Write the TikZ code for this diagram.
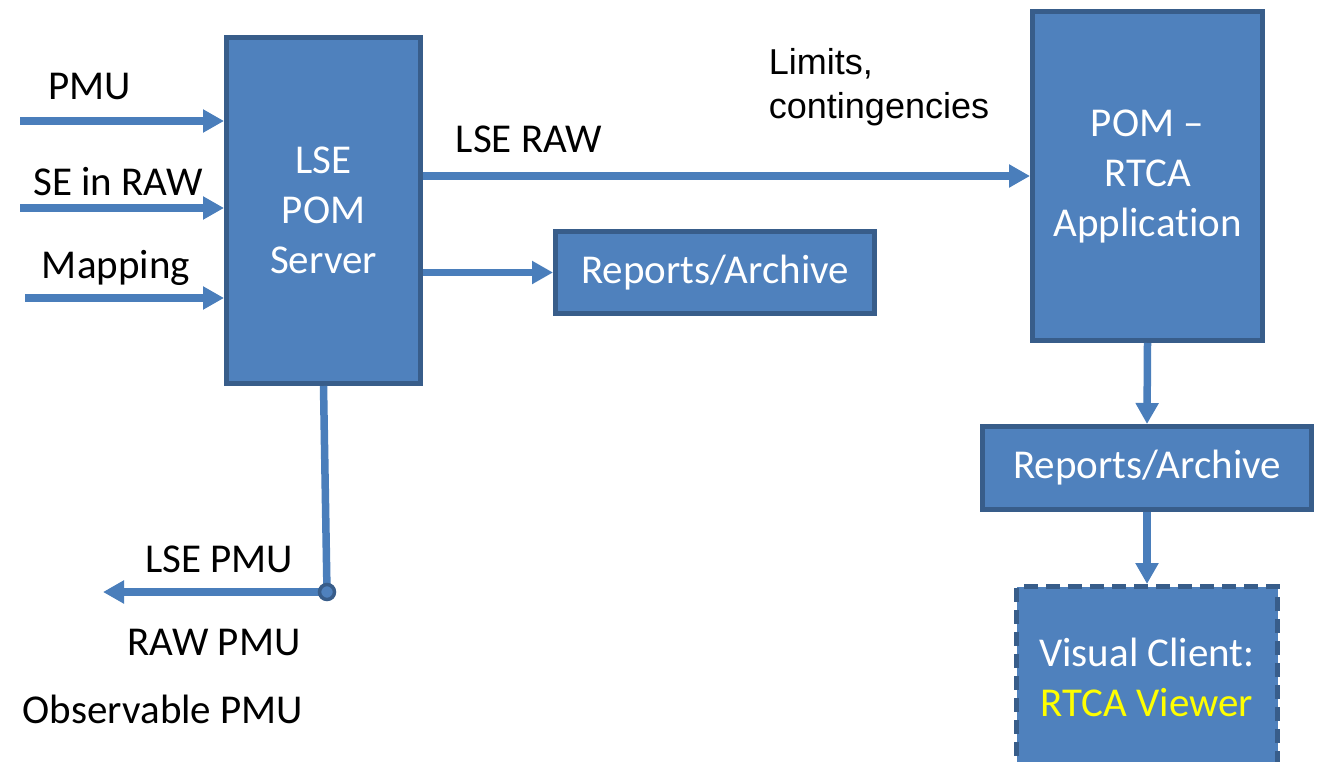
\documentclass[tikz,border=0pt]{standalone}
\usepackage{fontspec}
\setmainfont{Carlito}
\newfontfamily\arialfont{Liberation Sans}
\usetikzlibrary{arrows.meta}
\definecolor{boxfill}{HTML}{4F81BD}
\definecolor{boxline}{HTML}{385D8A}
\definecolor{arrcol}{HTML}{4A7EBB}
\definecolor{vyellow}{HTML}{FFFF00}
\tikzset{
  blk/.style={draw=boxline, fill=boxfill, line width=5pt, text=white, align=center,
    font=\fontsize{41}{50}\selectfont, inner sep=0pt},
  arr/.style={draw=arrcol, line width=7.5pt, -{Triangle[length=21pt,width=22pt]}},
  lnk/.style={draw=arrcol, line width=7.5pt},
  lbl/.style={font=\fontsize{41}{50}\selectfont, inner sep=0pt, anchor=base},
}
\begin{document}
\begin{tikzpicture}[x=1pt,y=-1pt]
\useasboundingbox (0,0) rectangle (1324,762);
% boxes
\node[blk, minimum width=194pt, minimum height=346pt] (srv) at (323.5,210.5) {LSE\\POM\\Server};
\node[blk, minimum width=230pt, minimum height=329pt] (rtca) at (1147.5,176) {POM --\\RTCA\\Applicat\kern0pt ion};
\node[blk, minimum width=319pt, minimum height=82pt] (rep1) at (715,272.5) {Reports/Archive};
\node[blk, minimum width=329pt, minimum height=83pt] (rep2) at (1147,468) {Reports/Archive};
\node[blk, dash pattern=on 14pt off 8pt, minimum width=261pt, minimum height=181pt] (vis) at (1147,677)
  {Visual Client:\\\textcolor{vyellow}{RTCA Viewer}};
% input arrows
\coordinate (pmuin) at (20,121);
\coordinate (sein) at (20,208);
\coordinate (mapin) at (25,298);
\draw[arr] (pmuin) -- (pmuin -| srv.west);
\draw[arr] (sein) -- (sein -| srv.west);
\draw[arr] (mapin) -- (mapin -| srv.west);
\node[lbl] (lpmu) at (90,100) {PMU};
\node[lbl] (lse) at (118,196) {SE in RAW};
\node[lbl] (lmap) at (116,278) {Mapping};
% outputs
\draw[arr] (srv.east |- rtca.west) -- (rtca.west);
\node[lbl] (llseraw) at (529,153) {LSE RAW};
\node[align=left, inner sep=0pt, font=\arialfont\fontsize{36}{44}\selectfont] (llim) at (879,87) {Limits,\\contingencies};
\draw[arr] (srv.east |- rep1.west) -- (rep1.west);
\draw[arr] (rtca.south) -- (rep2.north);
\draw[arr] (rep2.south) -- (vis.north);
% LSE PMU branch
\coordinate (jn) at (327,592);
\coordinate (pmuout) at (103,592);
\draw[lnk] (srv.south) -- (jn);
\draw[arr] (jn) -- (pmuout);
\node[circle, draw=boxline, fill=boxfill, line width=3.5pt, minimum size=15pt, inner sep=0pt] (jdot) at (jn) {};
\node[lbl] (llsepmu) at (219,572) {LSE PMU};
\node[lbl] (lrawpmu) at (214,655) {RAW PMU};
\node[lbl] (lobs) at (163,723) {Observable PMU};
\end{tikzpicture}
\end{document}
